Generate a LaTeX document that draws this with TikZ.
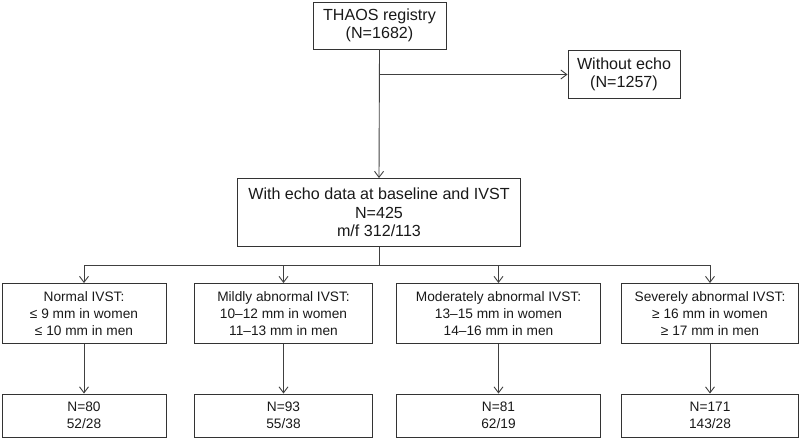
\documentclass[tikz,border=0pt]{standalone}
\usepackage{fontspec}
\setmainfont{Liberation Sans}
\usetikzlibrary{arrows.meta}
\begin{document}
\begin{tikzpicture}[x=1pt,y=-1pt,
  box/.style={draw=black!80, line width=0.9pt, align=center, inner sep=0pt,
    font=\fontsize{13.7}{16.7}\selectfont, text=black!90},
  bigbox/.style={box, font=\fontsize{16.1}{18.4}\selectfont},
  conn/.style={draw=black!75, line width=0.9pt},
  arr/.style={conn, -{Straight Barb[open, length=6pt, width=9pt, line width=0.9pt]}}]
\useasboundingbox (0,0) rectangle (800,439);
\node[bigbox, minimum width=133pt, minimum height=47pt] (thaos) at (379.5,25.5) {THAOS registry\\(N=1682)};
\node[bigbox, minimum width=112pt, minimum height=48pt] (without) at (624,74.5) {Without echo\\(N=1257)};
\node[bigbox, minimum width=283pt, minimum height=68pt] (echo) at (379,212.5) {With echo data at baseline and IVST\\N=425\\m/f 312/113};
\node[box, minimum width=164pt, minimum height=60pt] (b1) at (84,313.5) {Normal IVST:\\≤ 9 mm in women\\≤ 10 mm in men};
\node[box, minimum width=178pt, minimum height=60pt] (b2) at (283.5,313.5) {Mildly abnormal IVST:\\10–12 mm in women\\11–13 mm in men};
\node[box, minimum width=204pt, minimum height=60pt] (b3) at (498.5,313.5) {Moderately abnormal IVST:\\13–15 mm in women\\14–16 mm in men};
\node[box, minimum width=177pt, minimum height=60pt] (b4) at (710,313.5) {Severely abnormal IVST:\\≥ 16 mm in women\\≥ 17 mm in men};
\node[box, minimum width=164pt, minimum height=43pt] (n1) at (84,415.5) {N=80\\52/28};
\node[box, minimum width=178pt, minimum height=43pt] (n2) at (283.5,415.5) {N=93\\55/38};
\node[box, minimum width=204pt, minimum height=43pt] (n3) at (498.5,415.5) {N=81\\62/19};
\node[box, minimum width=177pt, minimum height=43pt] (n4) at (710,415.5) {N=171\\143/28};
\coordinate (split) at (thaos.south |- without.west);
\coordinate (hub) at (379,265);
\draw[arr] (thaos.south) -- (echo.north);
\draw[arr] (split) -- (without.west);
\draw[conn] (echo.south) -- (hub);
\draw[conn] (b1.north |- hub) -- (b4.north |- hub);
\draw[arr] (b1.north |- hub) -- (b1.north);
\draw[arr] (b2.north |- hub) -- (b2.north);
\draw[arr] (b3.north |- hub) -- (b3.north);
\draw[arr] (b4.north |- hub) -- (b4.north);
\draw[arr] (b1) -- (n1);
\draw[arr] (b2) -- (n2);
\draw[arr] (b3) -- (n3);
\draw[arr] (b4) -- (n4);
\end{tikzpicture}
\end{document}
